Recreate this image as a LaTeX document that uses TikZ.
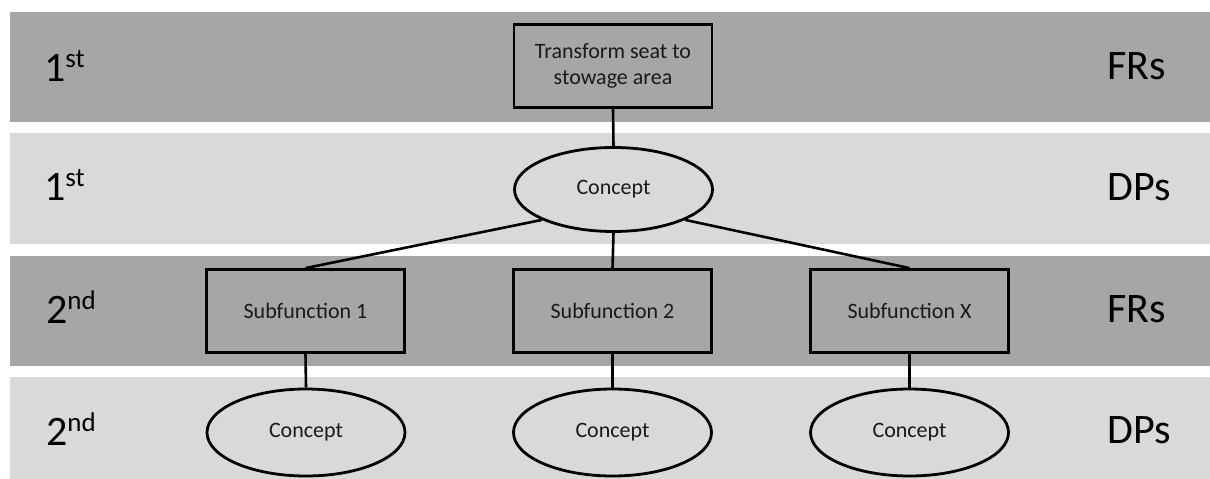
\documentclass[tikz,border=0pt]{standalone}
\usepackage{fontspec}
\setmainfont{Carlito}
\usetikzlibrary{shapes.geometric}
\definecolor{banddark}{HTML}{A6A6A6}
\definecolor{bandlight}{HTML}{D9D9D9}
\definecolor{nodetext}{HTML}{1A1A1A}
\begin{document}
\begin{tikzpicture}[x=1pt,y=-1pt,
  frbox/.style={draw=black,line width=2.8pt,fill=banddark,rectangle,
    inner sep=0pt,minimum width=198pt,minimum height=83pt,align=center,
    text=nodetext,font=\fontsize{22}{26.4}\selectfont},
  dpell/.style={draw=black,line width=2.8pt,fill=bandlight,ellipse,
    inner sep=0pt,minimum width=198pt,minimum height=84pt,
    text=nodetext,font=\fontsize{22}{26.4}\selectfont},
  link/.style={draw=black,line width=2.6pt},
  levellabel/.style={anchor=base west,inner sep=0pt,
    font=\fontsize{42}{42}\selectfont}]
\useasboundingbox (0,0) rectangle (1210,479);
% horizontal level bands
\fill[banddark]  (10,12)  rectangle (1210,122);
\fill[bandlight] (10,133) rectangle (1210,244);
\fill[banddark]  (10,256) rectangle (1210,366);
\fill[bandlight] (10,377) rectangle (1210,479);

% level labels
\newcommand{\ordsup}[1]{\raisebox{14pt}{\fontsize{27}{27}\selectfont #1}}
\node[levellabel] (l1) at (44,81)  {1\ordsup{st}};
\node[levellabel] (l2) at (44,200) {1\ordsup{st}};
\node[levellabel] (l3) at (46,323) {2\ordsup{nd}};
\node[levellabel] (l4) at (46,445) {2\ordsup{nd}};
\node[levellabel] (r1) at (1107,79)  {FRs};
\node[levellabel] (r2) at (1107,200) {DPs};
\node[levellabel] (r3) at (1107,322) {FRs};
\node[levellabel] (r4) at (1107,443) {DPs};

% hierarchy
\node[frbox] (top) at (613,66) {Transform seat to\\stowage area};
\node[dpell] (c1) at (613.5,189.5) {Concept};
\node[frbox] (s1) at (305.5,311) {Subfunction 1};
\node[frbox] (s2) at (612.5,311) {Subfunction 2};
\node[frbox] (sx) at (909.5,311) {Subfunction X};
\node[dpell,minimum height=87pt] (e1) at (306,432.5) {Concept};
\node[dpell,minimum height=87pt] (e2) at (612.5,432.5) {Concept};
\node[dpell,minimum height=87pt] (ex) at (909.5,432.5) {Concept};

\draw[link] (top.south) -- (c1.north);
\draw[link] (c1.203) -- (s1.north);
\draw[link] (c1.south) -- (s2.north);
\draw[link] (c1.337) -- (sx.north);
\draw[link] (s1.south) -- (e1.north);
\draw[link] (s2.south) -- (e2.north);
\draw[link] (sx.south) -- (ex.north);
\end{tikzpicture}
\end{document}
